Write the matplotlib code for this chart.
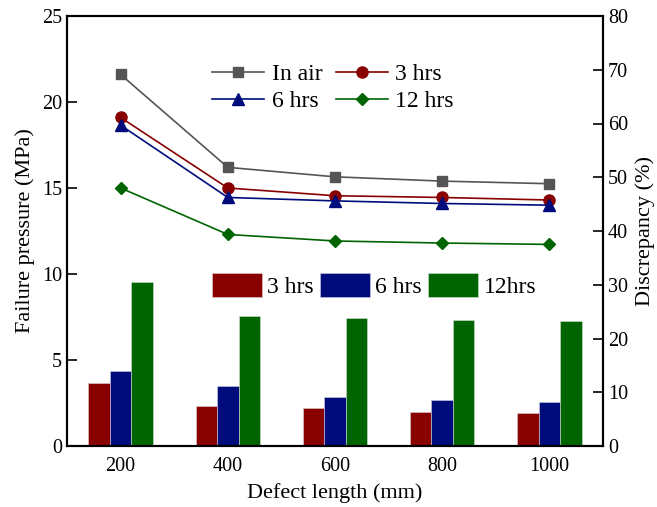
import matplotlib
matplotlib.use("Agg")
import matplotlib.pyplot as plt
import numpy as np

plt.rcParams['font.family'] = ['Liberation Serif', 'DejaVu Serif']
plt.rcParams['mathtext.fontset'] = 'stix'

lengths = [200, 400, 600, 800, 1000]
p_air = [21.6, 16.2, 15.65, 15.4, 15.25]
p_3h = [19.1, 15.0, 14.55, 14.45, 14.3]
p_6h = [18.65, 14.45, 14.25, 14.1, 14.0]
p_12h = [15.0, 12.3, 11.92, 11.8, 11.72]

d_3h = [11.7, 7.45, 7.0, 6.3, 6.2]
d_6h = [13.9, 11.2, 9.1, 8.5, 8.1]
d_12h = [30.6, 24.1, 23.8, 23.5, 23.3]

fig = plt.figure(figsize=(6.57, 5.07), dpi=100)
ax = fig.add_axes([67/657, 1-446/507, (603-67)/657, (446-16)/507])
ax2 = ax.twinx()

x = np.array(lengths)
w = 40
b1 = ax2.bar(x - w, d_3h, w, color='#880000', edgecolor='#e0d0d0', linewidth=0.4, label='3 hrs')
b2 = ax2.bar(x, d_6h, w, color='#000c7b', edgecolor='#d0d0e0', linewidth=0.4, label='6 hrs')
b3 = ax2.bar(x + w, d_12h, w, color='#006400', edgecolor='#d0e0d0', linewidth=0.4, label='12hrs')

ax.set_zorder(ax2.get_zorder() + 1)
ax.patch.set_visible(False)

l1, = ax.plot(x, p_air, '-s', color='#555555', ms=7.5, lw=1.2, label='In air')
l2, = ax.plot(x, p_3h, '-o', color='#880000', ms=8, lw=1.2, label='3 hrs')
l3, = ax.plot(x, p_6h, '-^', color='#000c7b', ms=8, lw=1.2, label='6 hrs')
l4, = ax.plot(x, p_12h, '-D', color='#006400', ms=6.5, lw=1.2, label='12 hrs')

ax.set_xlim(100, 1100)
ax.set_ylim(0, 25)
ax2.set_ylim(0, 80)
ax.set_xticks(lengths)
ax.set_yticks([0, 5, 10, 15, 20, 25])
ax2.set_yticks(range(0, 81, 10))
ax.tick_params(axis='x', length=0, labelsize=14.5, pad=8)
ax.tick_params(axis='y', direction='in', length=7, width=1.2, labelsize=14.5)
ax2.tick_params(axis='y', direction='in', length=7, width=1.2, labelsize=14.5)
for a in (ax, ax2):
    for s in a.spines.values():
        s.set_linewidth(1.5)

ax.set_xlabel('Defect length (mm)', fontsize=16, labelpad=5)
ax.set_ylabel('Failure pressure (MPa)', fontsize=16, labelpad=5)
ax2.set_ylabel('Discrepancy (%)', fontsize=16, labelpad=5)

leg1 = ax.legend(handles=[l1, l3, l2, l4], ncol=2, frameon=False, fontsize=17,
                 loc='upper left', bbox_to_anchor=(0.245, 0.922), handlelength=2.2,
                 columnspacing=0.6, handletextpad=0.3, labelspacing=0.22, borderaxespad=0.2)
leg2 = ax.legend(handles=[b1, b2, b3], ncol=3, frameon=False, fontsize=17,
                 loc='upper left', bbox_to_anchor=(0.244, 0.435), handlelength=2.1,
                 handleheight=1.2, columnspacing=0.25, handletextpad=0.25, borderaxespad=0.2)
ax.add_artist(leg1)

fig.savefig('out.png', dpi=100)
